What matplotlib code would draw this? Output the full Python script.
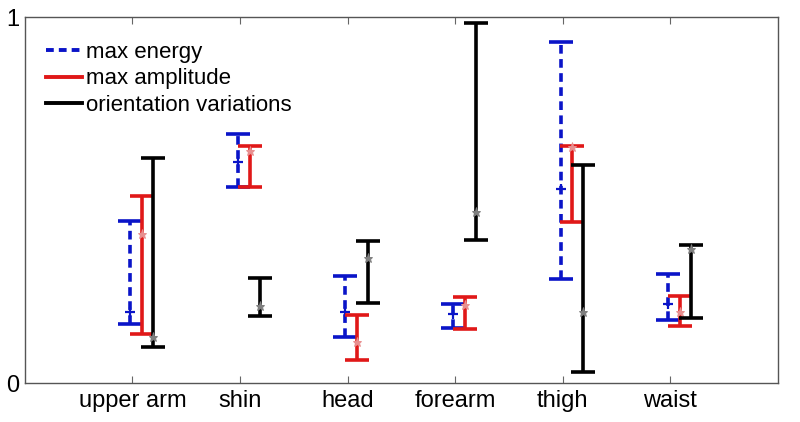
import matplotlib.pyplot as plt
from matplotlib.lines import Line2D
import numpy as np

plt.rcParams['font.family'] = ['Liberation Sans', 'DejaVu Sans']

# categories on the x axis
parts = ['upper arm', 'shin', 'head', 'forearm', 'thigh', 'waist']

# max energy (blue dashed): centre, low, high
energy_mid = [0.194, 0.604, 0.194, 0.189, 0.530, 0.216]
energy_low = [0.161, 0.536, 0.126, 0.150, 0.284, 0.172]
energy_high = [0.443, 0.680, 0.292, 0.216, 0.931, 0.298]

# max amplitude (red)
amp_mid = [0.407, 0.634, 0.112, 0.214, 0.645, 0.194]
amp_low = [0.134, 0.535, 0.064, 0.148, 0.441, 0.157]
amp_high = [0.512, 0.648, 0.187, 0.236, 0.648, 0.239]

# orientation variations (black)
orient_mid = [0.126, 0.211, 0.342, 0.468, 0.194, 0.366]
orient_low = [0.098, 0.184, 0.219, 0.390, 0.031, 0.178]
orient_high = [0.615, 0.287, 0.388, 0.984, 0.596, 0.377]

x = np.arange(1, len(parts) + 1)

fig = plt.figure(figsize=(8, 4.22), dpi=100)
ax = fig.add_axes([0.031, 0.0924, 0.9415, 0.8673])

def draw(offset, mid, low, high, color, marker, mcolor, dashed=False):
    mid = np.array(mid)
    err = [mid - np.array(low), np.array(high) - mid]
    eb = ax.errorbar(x + offset, mid, yerr=err, fmt='none', ecolor=color,
                     elinewidth=2.6, capsize=8.3, capthick=2.6)
    if dashed:
        eb[2][0].set_linestyle((0, (2.4, 1.5)))
    ax.plot(x + offset, mid, linestyle='none', marker=marker, markersize=6.5,
            color=mcolor, markeredgewidth=1.6 if marker == '+' else 0.7)

draw(-0.02, energy_mid, energy_low, energy_high, '#0a14c8', '+', '#0a14c8', dashed=True)
draw(0.09, amp_mid, amp_low, amp_high, '#e01818', '*', '#e89090')
draw(0.19, orient_mid, orient_low, orient_high, 'black', '*', '#808080')

ax.set_xlim(0, 7)
ax.set_ylim(0, 1)
ax.set_xticks(x)
ax.set_xticklabels(parts, fontsize=17)
ax.set_yticks([0, 1])
ax.set_yticklabels(['0', '1'], fontsize=17)
ax.tick_params(direction='in', top=True, length=5, width=0.8, colors='#666666',
               labelcolor='black', pad=5)
ax.tick_params(axis='y', length=0, pad=4)
for spine in ax.spines.values():
    spine.set_color('#555555')
    spine.set_linewidth(1.0)

handles = [
    Line2D([], [], color='#0a14c8', lw=2.8, linestyle=(0, (2.0, 1.3))),
    Line2D([], [], color='#e01818', lw=2.8),
    Line2D([], [], color='black', lw=2.8),
]
ax.legend(handles, ['max energy', 'max amplitude', 'orientation variations'],
          loc='upper left', frameon=False, fontsize=16, handlelength=1.6,
          handletextpad=0.2, labelspacing=0.26, borderaxespad=0.3,
          bbox_to_anchor=(0.008, 0.975))

fig.savefig('out.png', dpi=100)
